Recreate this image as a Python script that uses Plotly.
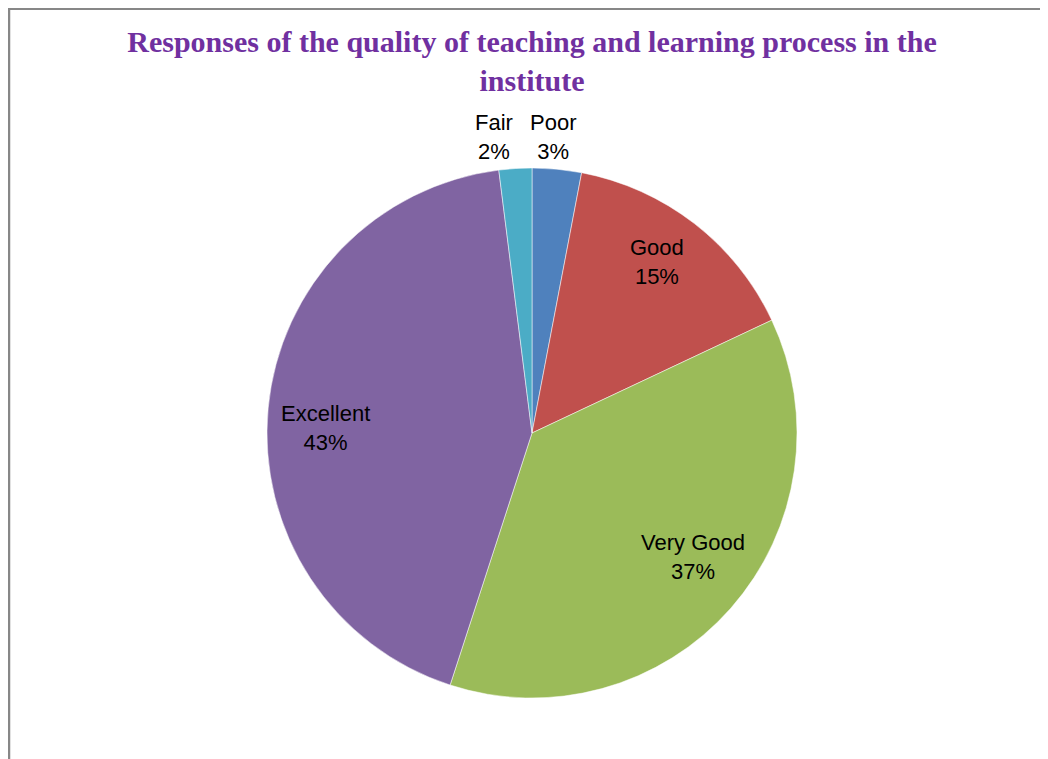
import math
import plotly.graph_objects as go

# ---- data ----
categories = ["Poor", "Good", "Very Good", "Excellent", "Fair"]
percentages = [3, 15, 37, 43, 2]
slice_colors = ["#4F81BD", "#C0504D", "#9BBB59", "#8064A2", "#4BACC6"]
title_text = "Responses of the quality of teaching and learning process in the<br>institute"

# ---- layout / style ----
W, H = 1048, 759
CX, CY, R = 524, 425, 265           # pie centre and radius in figure pixels
label_radius = {"Poor": 1.13, "Good": 0.79, "Very Good": 0.77,
                "Excellent": 0.78, "Fair": 1.13}
label_xshift = {"Poor": -7, "Good": -3, "Very Good": 8, "Excellent": -1, "Fair": -19}
label_yshift = {"Poor": 2, "Good": -6, "Very Good": -11, "Excellent": 14, "Fair": 3}

fig = go.Figure()
fig.add_trace(go.Pie(
    labels=categories,
    values=percentages,
    sort=False,
    direction="clockwise",
    rotation=0,
    marker=dict(colors=slice_colors, line=dict(color="rgba(255,255,255,0.5)", width=1)),
    textinfo="none",
    hoverinfo="label+percent",
    showlegend=False,
    domain=dict(x=[(CX - R) / W, (CX + R) / W], y=[1 - (CY + R) / H, 1 - (CY - R) / H]),
))

# data labels, positioned from the cumulative slice angles
total = sum(percentages)
cum = 0
annotations = []
for cat, val in zip(categories, percentages):
    mid = (cum + val / 2) / total * 2 * math.pi
    cum += val
    rf = label_radius[cat]
    px = CX + rf * R * math.sin(mid) + label_xshift[cat]
    py = CY - rf * R * math.cos(mid) + label_yshift[cat]
    pct = round(val / total * 100)
    annotations.append(dict(
        x=px / W, y=1 - py / H, xref="paper", yref="paper",
        text=f"{cat}<br>{pct}%", showarrow=False,
        xanchor="center", yanchor="middle", align="center",
        font=dict(family="Liberation Sans, Arial, sans-serif", size=22, color="#000000"),
    ))

fig.update_layout(
    width=W, height=H,
    margin=dict(l=0, r=0, t=0, b=0),
    paper_bgcolor="white",
    plot_bgcolor="white",
    title=dict(
        text="<b>" + title_text + "</b>",
        x=0.5, xanchor="center",
        y=1 - 44 / H, yanchor="top",
        font=dict(family="Liberation Serif, Times New Roman, serif", size=30, color="#7030A0"),
    ),
    annotations=annotations,
    shapes=[
        dict(type="line", xref="paper", yref="paper",
             x0=0, x1=1, y0=1 - 0.8 / H, y1=1 - 0.8 / H,
             line=dict(color="#878787", width=2.5)),
        dict(type="line", xref="paper", yref="paper",
             x0=1.0 / W, x1=1.0 / W, y0=0, y1=1,
             line=dict(color="#878787", width=2.5)),
    ],
)

fig.write_html("out.html")
